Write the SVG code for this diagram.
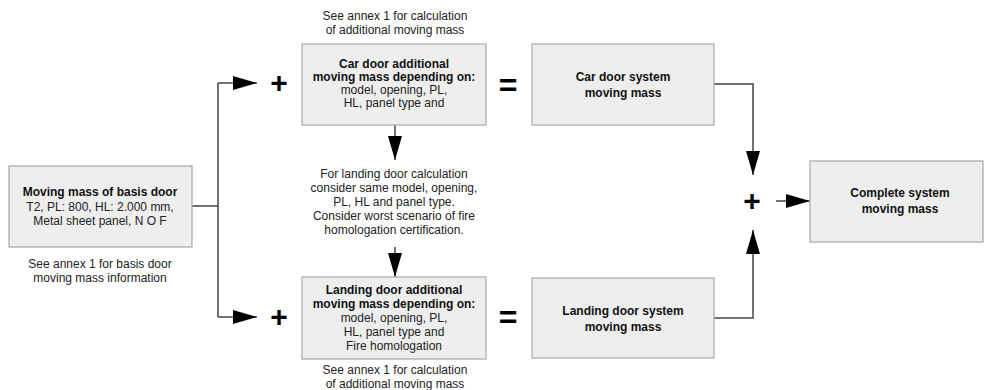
<svg xmlns="http://www.w3.org/2000/svg" width="986" height="390" viewBox="0 0 986 390">
<defs>
<marker id="ah" markerUnits="userSpaceOnUse" markerWidth="24" markerHeight="14" refX="24" refY="7" orient="auto">
<path d="M0,0 L24,7 L0,14 z" fill="#000"/>
</marker>
<style>
.box{fill:#eeeeee;stroke:#a9a9a9;stroke-width:1.2}
.t{font-family:"Liberation Sans",Arial,sans-serif;font-size:12px;fill:#222;text-anchor:middle}
.b{font-weight:bold;fill:#111}
.op{font-family:"Liberation Sans",Arial,sans-serif;font-weight:bold;fill:#000;text-anchor:middle}
.ln{fill:none;stroke:#444;stroke-width:1.5}
</style>
</defs>
<rect width="986" height="390" fill="#fff"/>
<g id="connectors">
<path class="ln" d="M192,206 H218"/>
<path class="ln" d="M218,83 V317"/>
<path class="ln" d="M218,83 H257" marker-end="url(#ah)"/>
<path class="ln" d="M218,317 H257" marker-end="url(#ah)"/>
<path class="ln" d="M395,125 V160" marker-end="url(#ah)"/>
<path class="ln" d="M395,247 V277" marker-end="url(#ah)"/>
<path class="ln" d="M714,84 H753 V175" marker-end="url(#ah)"/>
<path class="ln" d="M714,318 H753 V230" marker-end="url(#ah)"/>
<path class="ln" d="M776,201 H810" marker-end="url(#ah)"/>
</g>
<g id="basis">
<rect class="box" x="9" y="166" width="183" height="81"/>
<text class="t b" x="100" y="196">Moving mass of basis door</text>
<text class="t" x="100" y="211">T2, PL: 800, HL: 2.000 mm,</text>
<text class="t" x="100" y="225">Metal sheet panel, N O F</text>
</g>
<g id="basis-note">
<text class="t" x="100" y="268">See annex 1 for basis door</text>
<text class="t" x="100" y="282">moving mass information</text>
</g>
<g id="car-note">
<text class="t" x="395" y="20">See annex 1 for calculation</text>
<text class="t" x="395" y="34">of additional moving mass</text>
</g>
<g id="car-add">
<rect class="box" x="302" y="44" width="184" height="81"/>
<text class="t b" x="394" y="68">Car door additional</text>
<text class="t b" x="394" y="81">moving mass depending on:</text>
<text class="t" x="394" y="94">model, opening, PL,</text>
<text class="t" x="394" y="107">HL, panel type and</text>
</g>
<g id="middle-note">
<text class="t" x="394" y="178">For landing door calculation</text>
<text class="t" x="394" y="192">consider same model, opening,</text>
<text class="t" x="394" y="206">PL, HL and panel type.</text>
<text class="t" x="394" y="220">Consider worst scenario of fire</text>
<text class="t" x="394" y="234">homologation certification.</text>
</g>
<g id="landing-add">
<rect class="box" x="302" y="277" width="184" height="82"/>
<text class="t b" x="394" y="294">Landing door additional</text>
<text class="t b" x="394" y="308">moving mass depending on:</text>
<text class="t" x="394" y="322">model, opening, PL,</text>
<text class="t" x="394" y="336">HL, panel type and</text>
<text class="t" x="394" y="350">Fire homologation</text>
</g>
<g id="landing-note">
<text class="t" x="395" y="374">See annex 1 for calculation</text>
<text class="t" x="395" y="388">of additional moving mass</text>
</g>
<g id="car-sys">
<rect class="box" x="532" y="44" width="182" height="81"/>
<text class="t b" x="623" y="81">Car door system</text>
<text class="t b" x="623" y="97">moving mass</text>
</g>
<g id="landing-sys">
<rect class="box" x="532" y="278" width="182" height="80"/>
<text class="t b" x="623" y="315">Landing door system</text>
<text class="t b" x="623" y="331">moving mass</text>
</g>
<g id="complete">
<rect class="box" x="810" y="161" width="173" height="81"/>
<text class="t b" x="900" y="197">Complete system</text>
<text class="t b" x="900" y="213">moving mass</text>
</g>
<g id="operators">
<text class="op" x="279" y="93" font-size="30">+</text>
<text class="op" x="279" y="327" font-size="30">+</text>
<text class="op" x="752" y="211" font-size="30">+</text>
<text class="op" x="508" y="96" font-size="32">=</text>
<text class="op" x="508" y="328" font-size="32">=</text>
</g>
</svg>
